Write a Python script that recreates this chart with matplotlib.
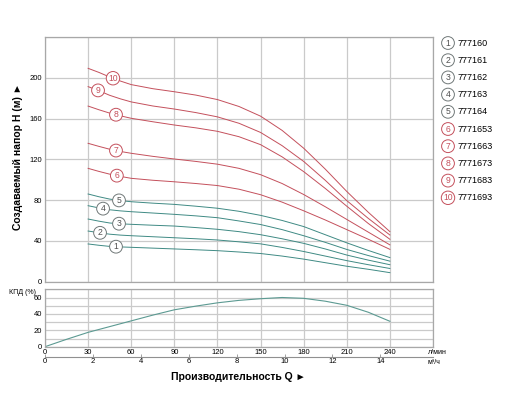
import numpy as np
import matplotlib
matplotlib.use("Agg")
import matplotlib.pyplot as plt

plt.rcParams['font.family'] = ['Liberation Sans', 'DejaVu Sans']

# подача, л/мин
Q = [30, 37.5, 45, 52.5, 60, 75, 90, 105, 120, 135, 150, 165, 180, 195, 210, 225, 240]

H1 = [36.9, 35.6, 34.5, 34.0, 33.6, 32.8, 32.0, 31.2, 30.3, 29.0, 27.5, 25.0, 22.0, 18.5, 15.0, 12.0, 8.7]
H2 = [49.6, 48.0, 46.5, 45.6, 45.0, 44.0, 43.0, 42.0, 40.8, 39.0, 37.0, 33.5, 29.5, 25.0, 20.5, 16.5, 12.8]
H3 = [61.4, 59.3, 57.5, 56.7, 56.2, 55.3, 54.5, 53.0, 51.3, 49.0, 46.0, 42.0, 37.5, 32.0, 26.0, 21.0, 16.5]
H4 = [74.5, 72.3, 70.5, 69.4, 68.6, 67.3, 66.0, 64.5, 62.7, 59.5, 56.0, 51.0, 45.0, 38.5, 31.5, 25.5, 20.0]
H5 = [86.0, 83.3, 81.0, 79.5, 78.4, 77.0, 75.8, 74.0, 72.0, 69.0, 65.0, 60.0, 54.0, 46.0, 38.0, 30.5, 23.5]
H6 = [111.2, 108.2, 105.5, 103.3, 101.4, 99.5, 98.0, 96.3, 94.3, 90.7, 85.3, 78.0, 69.5, 60.5, 51.0, 41.5, 31.6]
H7 = [135.8, 132.8, 130.0, 127.8, 126.0, 123.0, 120.4, 118.0, 115.3, 111.2, 105.0, 96.3, 85.5, 73.5, 61.0, 48.5, 36.0]
H8 = [172.4, 168.8, 165.5, 162.8, 160.4, 157.0, 153.8, 151.0, 147.6, 142.3, 134.5, 122.5, 108.0, 91.5, 74.0, 57.0, 41.5]
H9 = [191.5, 187.5, 183.0, 179.5, 176.5, 172.5, 169.5, 166.0, 161.8, 155.5, 146.5, 133.5, 118.0, 99.5, 79.5, 62.0, 45.7]
H10 = [209.5, 205.5, 201.0, 197.0, 193.5, 189.5, 186.5, 183.2, 178.8, 172.0, 162.5, 148.5, 131.0, 110.5, 88.5, 68.0, 49.0]

# КПД
Q_eff = [0, 15, 30, 45, 60, 75, 90, 105, 120, 135, 150, 165, 180, 195, 210, 225, 240]
EFF = [0, 9.0, 17.5, 24.5, 31.5, 38.5, 45.0, 49.5, 53.5, 56.5, 58.5, 60.0, 59.0, 55.5, 50.5, 42.0, 31.0]

MODELS = ["777160", "777161", "777162", "777163", "777164",
          "7771653", "7771663", "7771673", "7771683", "7771693"]
LABEL_Q = [49.4, 38.3, 51.5, 40.4, 51.5, 50.0, 49.4, 49.4, 36.9, 47.3]
M3H_TICKS = [0, 2, 4, 6, 8, 10, 12, 14]

RED = '#c4505c'
TEAL = '#3f8a84'
GRID = '#cacaca'
EDGE = '#a8a8a8'

curves = [H1, H2, H3, H4, H5, H6, H7, H8, H9, H10]

fig = plt.figure(figsize=(5.12, 4.17), dpi=100)
ax = fig.add_axes([45/512, 1 - 281.5/417, 388/512, 244.2/417])
ax2 = fig.add_axes([45/512, 1 - 346.7/417, 388/512, 57.4/417])
ax3 = fig.add_axes([45/512, 1 - 357/417, 388/512, 0.0001])

for a in (ax, ax2):
    a.set_xlim(0, 270)
    a.set_xticks(range(0, 271, 30))
    a.grid(True, color=GRID, linewidth=0.9)
    a.tick_params(length=0, labelsize=5.5, pad=2)
    for s in a.spines.values():
        s.set_color(EDGE)
        s.set_linewidth(0.9)
    a.set_axisbelow(True)

ax.set_ylim(0, 240)
ax.set_yticks(range(0, 241, 40))
ax.set_yticklabels(['0', '40', '80', '120', '160', '200', ''])
ax.set_xticklabels([])

def circ(col):
    return dict(boxstyle='circle,pad=0.22', fc='white', ec=col, lw=0.7)

for i, H in enumerate(curves):
    col = TEAL if i < 5 else RED
    ax.plot(Q, H, color=col, linewidth=0.7)
    q = LABEL_Q[i]
    h = np.interp(q, Q, H)
    ax.text(q, h, str(i + 1), ha='center', va='center', fontsize=6.2,
            color='#505050' if i < 5 else RED,
            bbox=circ('#707878' if i < 5 else RED))

ax2.set_ylim(0, 70)
ax2.set_yticks(range(0, 71, 10))
ax2.set_yticklabels(['0', '', '20', '', '40', '', '60', ''])
ax2.set_xticklabels(['0', '30', '60', '90', '120', '150', '180', '210', '240', ''])
ax2.plot(Q_eff, EFF, color='#5c9a92', linewidth=0.8)

# вторая шкала, м3/ч
ax3.set_xlim(0, 270)
ax3.set_yticks([])
for k in ('top', 'left', 'right'):
    ax3.spines[k].set_visible(False)
ax3.spines['bottom'].set_color('#909090')
ax3.spines['bottom'].set_linewidth(0.8)
ax3.set_xticks([m * 1000 / 60 for m in M3H_TICKS])
ax3.set_xticklabels([str(m) for m in M3H_TICKS])
ax3.tick_params(direction='in', length=2, width=0.6, color='#909090',
                labelsize=5.5, pad=1)

fig.text(18/512, 1 - 157/417, "Создаваемый напор H (м) ►", rotation=90,
         ha='center', va='center', fontsize=7.5, fontweight='bold')
fig.text(238/512, 1 - 377/417, "Производительность Q ►", ha='center',
         va='center', fontsize=7.5, fontweight='bold')
fig.text(9/512, 1 - 293/417, "КПД (%)", ha='left', va='center', fontsize=5)
fig.text(428/512, 1 - 352/417, "л/мин", ha='left', va='center', fontsize=5)
fig.text(428/512, 1 - 362/417, "м³/ч", ha='left', va='center', fontsize=5)

for i, name in enumerate(MODELS):
    y = 1 - (43 + i * 17.2) / 417
    col = '#707878' if i < 5 else RED
    fig.text(448/512, y, str(i + 1), ha='center', va='center', fontsize=6.2,
             color='#505050' if i < 5 else RED, bbox=circ(col))
    fig.text(458/512, y, name, ha='left', va='center', fontsize=6.5)

fig.savefig("out.png", dpi=100)
